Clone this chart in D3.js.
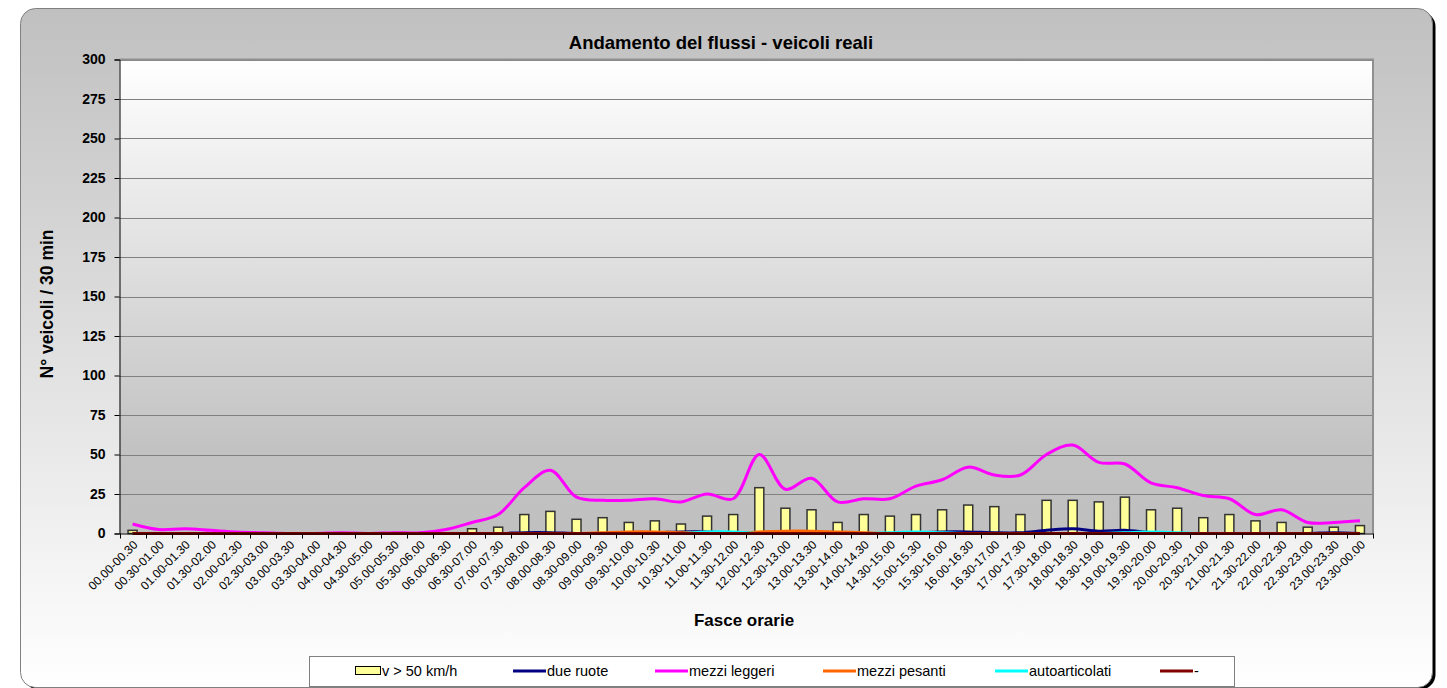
<!DOCTYPE html>
<html>
<head>
<meta charset="utf-8">
<script src="https://cdn.jsdelivr.net/npm/d3@7"></script>
<style>
  body { margin: 0; background: #ffffff; }
  svg { display: block; font-family: "Liberation Sans", Arial, sans-serif; }
</style>
</head>
<body>
<script>
// fasce orarie (30 min)
var fasce = ["00.00-00.30","00.30-01.00","01.00-01.30","01.30-02.00","02.00-02.30","02.30-03.00",
  "03.00-03.30","03.30-04.00","04.00-04.30","04.30-05.00","05.00-05.30","05.30-06.00",
  "06.00-06.30","06.30-07.00","07.00-07.30","07.30-08.00","08.00-08.30","08.30-09.00",
  "09.00-09.30","09.30-10.00","10.00-10.30","10.30-11.00","11.00-11.30","11.30-12.00",
  "12.00-12.30","12.30-13.00","13.00-13.30","13.30-14.00","14.00-14.30","14.30-15.00",
  "15.00-15.30","15.30-16.00","16.00-16.30","16.30-17.00","17.00-17.30","17.30-18.00",
  "18.00-18.30","18.30-19.00","19.00-19.30","19.30-20.00","20.00-20.30","20.30-21.00",
  "21.00-21.30","21.30-22.00","22.00-22.30","22.30-23.00","23.00-23.30","23.30-00.00"];

var vOltre50 = [2,0,0,0,0,0,0,0,0,0,0,0,0,3,4,12,14,9,10,7,8,6,11,12,29,16,15,7,12,11,12,15,18,17,12,21,21,20,23,15,16,10,12,8,7,4,4,5];
var dueRuote = [0,0,0,0,0,0,0,0,0,0,0,0,0,0,0,0.5,0.5,0,0,0.5,0.5,1,1,0.5,0,0,0,0,0,0,0.5,1,1,0.5,0.5,2,3,1.5,2,0.5,0,0,0,0,0,0,0.5,0];
var mezziLeggeri = [6,2.5,3,2,1,0.5,0,0,0.5,0,0.5,0.5,2.5,7,12,29,40,23,21,21,22,20,25,22,50,28,35,20,22,22,30,34,42,37,37,50,56,45,44,32,29,24,22,12,15,7,7,8];
var mezziPesanti = [0,0,0,0,0,0,0,0,0,0,0,0,0,0,0,0,0,0,0.5,1,1,0.5,0.5,0,1,1.5,1.5,1,0.5,0,0,0,0,0,0,0,0,0,0,0,0,0,0,0,0,0,0,0];
var autoarticolati = [0,0,0,0,0,0,0,0,0,0,0,0,0,0,0,0,0,0,0,0,0,0,1,1,0,0,0,0,0,0.5,1,0.5,0,0,0,0,0,0,0.5,1,0.5,0,0,0,0,0,0,0];
var trattino = [0,0,0,0,0,0,0,0,0,0,0,0,0,0,0,0,0,0,0,0,0,0,0,0,0,0,0,0,0,0,0,0,0,0,0,0,0,0,0,0,0,0,0,0,0,0,0,0];

var yTicks = [0,25,50,75,100,125,150,175,200,225,250,275,300];

var serieLinee = [
  {nome: "due ruote", valori: dueRuote, colore: "#000080"},
  {nome: "mezzi leggeri", valori: mezziLeggeri, colore: "#ff00ff"},
  {nome: "mezzi pesanti", valori: mezziPesanti, colore: "#ff6600"},
  {nome: "autoarticolati", valori: autoarticolati, colore: "#00ffff"},
  {nome: "-", valori: trattino, colore: "#800000"}
];

var W = 1447, H = 688;
var plot = {left: 119.5, right: 1373, top: 59.5, bottom: 533.5};

var svg = d3.select("body").append("svg")
  .attr("width", W)
  .attr("height", H);

var defs = svg.append("defs");
var gPanel = defs.append("linearGradient").attr("id", "gradPanel")
  .attr("x1", 0).attr("y1", 0).attr("x2", 0).attr("y2", 1);
gPanel.append("stop").attr("offset", "0%").attr("stop-color", "#c0c0c0");
gPanel.append("stop").attr("offset", "100%").attr("stop-color", "#ffffff");
var gPlot = defs.append("linearGradient").attr("id", "gradPlot")
  .attr("x1", 0).attr("y1", 0).attr("x2", 0).attr("y2", 1);
gPlot.append("stop").attr("offset", "0%").attr("stop-color", "#ffffff");
gPlot.append("stop").attr("offset", "82%").attr("stop-color", "#c2c2c2");
gPlot.append("stop").attr("offset", "100%").attr("stop-color", "#c0c0c0");

// ombra e pannello esterno
svg.append("rect")
  .attr("x", 23.5).attr("y", 11.5)
  .attr("width", 1412).attr("height", 678)
  .attr("rx", 15).attr("fill", "#000000");
svg.append("rect")
  .attr("x", 20.5).attr("y", 8.5)
  .attr("width", 1412).attr("height", 679)
  .attr("rx", 15)
  .attr("fill", "url(#gradPanel)")
  .attr("stroke", "#808080").attr("stroke-width", 1);

// area del grafico
svg.append("rect")
  .attr("x", plot.left).attr("y", plot.top)
  .attr("width", plot.right - plot.left).attr("height", plot.bottom - plot.top)
  .attr("fill", "url(#gradPlot)");

var x = d3.scaleBand().domain(fasce).range([plot.left, plot.right]);
var y = d3.scaleLinear().domain([0, 300]).range([plot.bottom, plot.top]);

// griglia
svg.append("g")
  .selectAll("line")
  .data(yTicks.filter(function(d){ return d > 0; }))
  .join("line")
  .attr("x1", plot.left).attr("x2", plot.right)
  .attr("y1", function(d){ return Math.round(y(d)) + 0.5; })
  .attr("y2", function(d){ return Math.round(y(d)) + 0.5; })
  .attr("stroke", "#808080").attr("stroke-width", 1);

// bordo superiore e destro
svg.append("path")
  .attr("d", "M" + plot.left + "," + plot.top + "H" + plot.right + "V" + plot.bottom)
  .attr("fill", "none").attr("stroke", "#909090").attr("stroke-width", 2);

// barre
var bw = 9;
svg.append("g")
  .selectAll("rect")
  .data(vOltre50.map(function(v, i){ return {f: fasce[i], v: v}; }).filter(function(d){ return d.v > 0; }))
  .join("rect")
  .attr("x", function(d){ return x(d.f) + x.bandwidth() / 2 - bw / 2; })
  .attr("width", bw)
  .attr("y", function(d){ return y(d.v); })
  .attr("height", function(d){ return y(0) - y(d.v); })
  .attr("fill", "#ffff99")
  .attr("stroke", "#333333").attr("stroke-width", 1.5);

// linee
var linea = d3.line()
  .x(function(d, i){ return x(fasce[i]) + x.bandwidth() / 2; })
  .y(function(d){ return y(d); })
  .curve(d3.curveCatmullRom.alpha(0.5));

svg.append("g")
  .selectAll("path")
  .data(serieLinee)
  .join("path")
  .attr("d", function(s){ return linea(s.valori); })
  .attr("fill", "none")
  .attr("stroke", function(s){ return s.colore; })
  .attr("stroke-width", 3)
  .attr("stroke-linejoin", "round");

// assi
var assY = d3.axisLeft(y).tickValues(yTicks).tickSize(5).tickPadding(9);
var gy = svg.append("g")
  .attr("transform", "translate(" + plot.left + ",0)")
  .call(assY);
gy.select(".domain").attr("stroke", "#000000");
gy.selectAll(".tick line").attr("stroke", "#000000");
gy.selectAll(".tick text")
  .attr("font-size", 14).attr("font-weight", "bold")
  .attr("fill", "#000000")
  .attr("font-family", "'Liberation Sans', Arial, sans-serif");

var assX = d3.axisBottom(x).tickSize(0).tickFormat("");
var gx = svg.append("g")
  .attr("transform", "translate(0," + plot.bottom + ")")
  .call(assX);
gx.select(".domain").attr("stroke", "#000000");

// tacche dell'asse x sui bordi delle fasce
gx.append("g")
  .selectAll("line")
  .data(fasce.concat(["fine"]))
  .join("line")
  .attr("x1", function(d, i){ return Math.round(plot.left + i * x.bandwidth()) + 0.5; })
  .attr("x2", function(d, i){ return Math.round(plot.left + i * x.bandwidth()) + 0.5; })
  .attr("y1", 0).attr("y2", 5)
  .attr("stroke", "#000000");

gx.append("g")
  .selectAll("text")
  .data(fasce)
  .join("text")
  .attr("transform", function(d){
    return "translate(" + (x(d) + x.bandwidth() / 2 + 3) + ",9) rotate(-45)";
  })
  .attr("text-anchor", "end")
  .attr("dy", "0.35em")
  .attr("font-size", 12)
  .attr("fill", "#000000")
  .text(function(d){ return d; });

// titoli
svg.append("text")
  .attr("x", 721).attr("y", 49)
  .attr("text-anchor", "middle")
  .attr("font-size", 18.5).attr("font-weight", "bold")
  .text("Andamento del flussi - veicoli reali");

svg.append("text")
  .attr("transform", "translate(47,304) rotate(-90)")
  .attr("text-anchor", "middle")
  .attr("dy", "0.35em")
  .attr("font-size", 17.5).attr("font-weight", "bold")
  .text("N° veicoli / 30 min");

svg.append("text")
  .attr("x", 744).attr("y", 626)
  .attr("text-anchor", "middle")
  .attr("font-size", 17).attr("font-weight", "bold")
  .text("Fasce orarie");

// legenda
var leg = svg.append("g");
leg.append("rect")
  .attr("x", 309.5).attr("y", 656.5)
  .attr("width", 925).attr("height", 30)
  .attr("fill", "#ffffff").attr("stroke", "#808080");

var legVoci = [{nome: "v > 50 km/h", barra: true, colore: "#ffff99", x: 355}]
  .concat(serieLinee.map(function(s, i){
    return {nome: s.nome, barra: false, colore: s.colore, x: [513, 655, 823, 995, 1160][i]};
  }));

var voce = leg.selectAll("g.voce")
  .data(legVoci)
  .join("g")
  .attr("class", "voce")
  .attr("transform", function(d){ return "translate(" + d.x + ",671)"; });

voce.filter(function(d){ return d.barra; })
  .append("rect")
  .attr("x", 0.5).attr("y", -4.5)
  .attr("width", 25).attr("height", 8)
  .attr("fill", function(d){ return d.colore; })
  .attr("stroke", "#000000");

voce.filter(function(d){ return !d.barra; })
  .append("line")
  .attr("x1", 0).attr("x2", 33)
  .attr("y1", 0).attr("y2", 0)
  .attr("stroke", function(d){ return d.colore; })
  .attr("stroke-width", 3);

voce.append("text")
  .attr("x", function(d){ return d.barra ? 27 : 34; })
  .attr("y", 0)
  .attr("dy", "0.35em")
  .attr("font-size", 14.5)
  .text(function(d){ return d.nome; });
</script>
</body>
</html>
